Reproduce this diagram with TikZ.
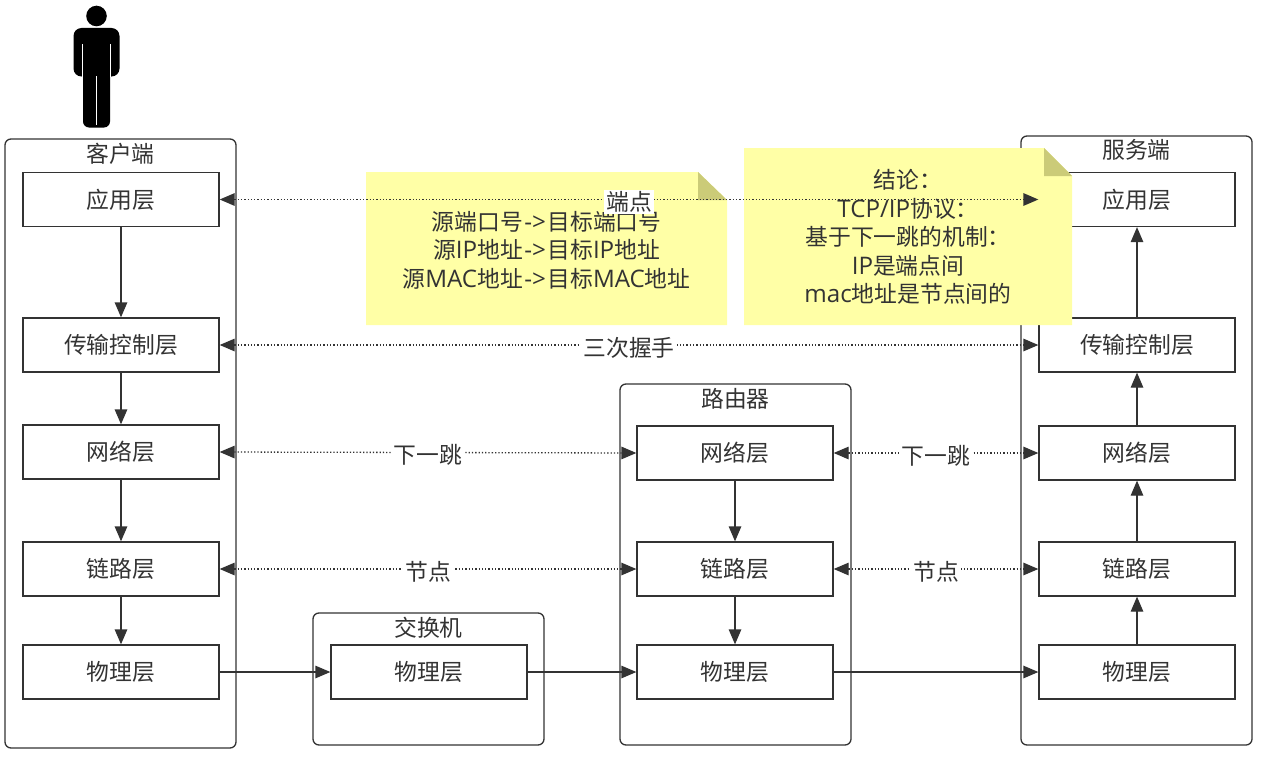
\documentclass[tikz,border=0pt]{standalone}
\usepackage{fontspec}
\setmainfont{Noto Sans CJK SC}
\newfontfamily\latn[Scale=1.06]{Open Sans}
\newcommand{\ltn}[1]{{\latn #1}}
\newcommand{\pointsto}{\kern1.5pt{\latn ->}\kern1.5pt}
\usetikzlibrary{arrows.meta}
\definecolor{ink}{HTML}{333333}
\definecolor{notefill}{HTML}{FFFFA6}
\definecolor{notefold}{HTML}{CBCB78}
\tikzset{
  x=1pt,y=-1pt,
  every node/.style={text=ink,font=\fontsize{22.8}{28.5}\selectfont},
  device/.style={draw=ink,line width=1.3pt,rounded corners=6pt},
  layerbox/.style={draw=ink,fill=white,line width=1.3pt,minimum width=196pt,minimum height=54pt,inner sep=0pt},
  title/.style={inner sep=0pt},
  flow/.style={draw=ink,line width=1.3pt,-{Triangle[length=15pt,width=12.5pt]}},
  peer/.style={draw=ink,line width=1.3pt,dash pattern=on 1.3pt off 2pt,
    {Triangle[length=15pt,width=12.5pt]}-{Triangle[length=15pt,width=12.5pt]}},
  tag/.style={fill=white,inner xsep=2pt,inner ysep=1pt,yshift=-2.5pt},
  notetext/.style={align=center,inner sep=0pt},
}
\begin{document}
\begin{tikzpicture}
\useasboundingbox (0,0) rectangle (1276,768);

% person
\fill[black] (96.5,16) circle (10.3);
\fill[black,rounded corners=8pt] (73.5,76.5) -- (73.5,28) -- (119.5,28) -- (119.5,76.5) -- cycle;
\fill[black,rounded corners=6pt] (83,60) -- (110,60) -- (110,127.5) -- (83,127.5) -- cycle;
\fill[white] (81.8,44) rectangle (83,77);
\fill[white] (110,44) rectangle (111.2,77);
\fill[white] (96,76) rectangle (97.2,125);

% device outlines
\draw[device] (5,139) rectangle (236,748);
\draw[device] (313,613) rectangle (544,745);
\draw[device] (620,384) rectangle (851,745);
\draw[device] (1021,136) rectangle (1252,745);
\node[title] (tclient) at (120.5,154) {客户端};
\node[title] (tswitch) at (428.5,628) {交换机};
\node[title] (trouter) at (735.5,399) {路由器};
\node[title] (tserver) at (1136.5,150) {服务端};

% client stack
\node[layerbox] (c1) at (121,199.5) {应用层};
\node[layerbox] (c2) at (121,345) {传输控制层};
\node[layerbox] (c3) at (121,452) {网络层};
\node[layerbox] (c4) at (121,569) {链路层};
\node[layerbox] (c5) at (121,672) {物理层};
% switch
\node[layerbox] (s5) at (429,672) {物理层};
% router stack
\node[layerbox] (r3) at (735,453) {网络层};
\node[layerbox] (r4) at (735,569) {链路层};
\node[layerbox] (r5) at (735,672) {物理层};
% server stack
\node[layerbox] (d1) at (1137,199.5) {应用层};
\node[layerbox] (d2) at (1137,345) {传输控制层};
\node[layerbox] (d3) at (1137,453) {网络层};
\node[layerbox] (d4) at (1137,569) {链路层};
\node[layerbox] (d5) at (1137,672) {物理层};

% data path down, across and up
\draw[flow] (c1) -- (c2);
\draw[flow] (c2) -- (c3);
\draw[flow] (c3) -- (c4);
\draw[flow] (c4) -- (c5);
\draw[flow] (c5) -- (s5);
\draw[flow] (s5) -- (r5);
\draw[flow] (r5) -- (d5);
\draw[flow] (r3) -- (r4);
\draw[flow] (r4) -- (r5);
\draw[flow] (d5) -- (d4);
\draw[flow] (d4) -- (d3);
\draw[flow] (d3) -- (d2);
\draw[flow] (d2) -- (d1);

% sticky notes
\fill[notefill] (366,172) -- (698,172) -- (727,200) -- (727,325) -- (366,325) -- cycle;
\fill[notefold] (698,172) -- (727,200) -- (698,200) -- cycle;
\node[notetext] (note1) at (546.5,250) {源端口号\pointsto 目标端口号\\源\ltn{IP}地址\pointsto 目标\ltn{IP}地址\\源\ltn{MAC}地址\pointsto 目标\ltn{MAC}地址};
\fill[notefill] (744,148) -- (1044,148) -- (1072,176) -- (1072,325) -- (744,325) -- cycle;
\fill[notefold] (1044,148) -- (1072,176) -- (1044,176) -- cycle;
\node[notetext] (note2) at (908,237) {结论：\\\ltn{TCP/IP}协议：\\基于下一跳的机制：\\\ltn{IP}是端点间\\\ltn{mac}地址是节点间的};

% peer-to-peer relations
\draw[peer] (c1) -- node[tag] (lend) {端点} (d1);
\draw[peer] (c2) -- node[tag] (lhand) {三次握手} (d2);
\draw[peer] (c3.east) -- node[tag] (lhop1) {下一跳} (r3.west);
\draw[peer] (c4) -- node[tag] (lnode1) {节点} (r4);
\draw[peer] (r3) -- node[tag] (lhop2) {下一跳} (d3);
\draw[peer] (r4) -- node[tag] (lnode2) {节点} (d4);
\end{tikzpicture}
\end{document}
